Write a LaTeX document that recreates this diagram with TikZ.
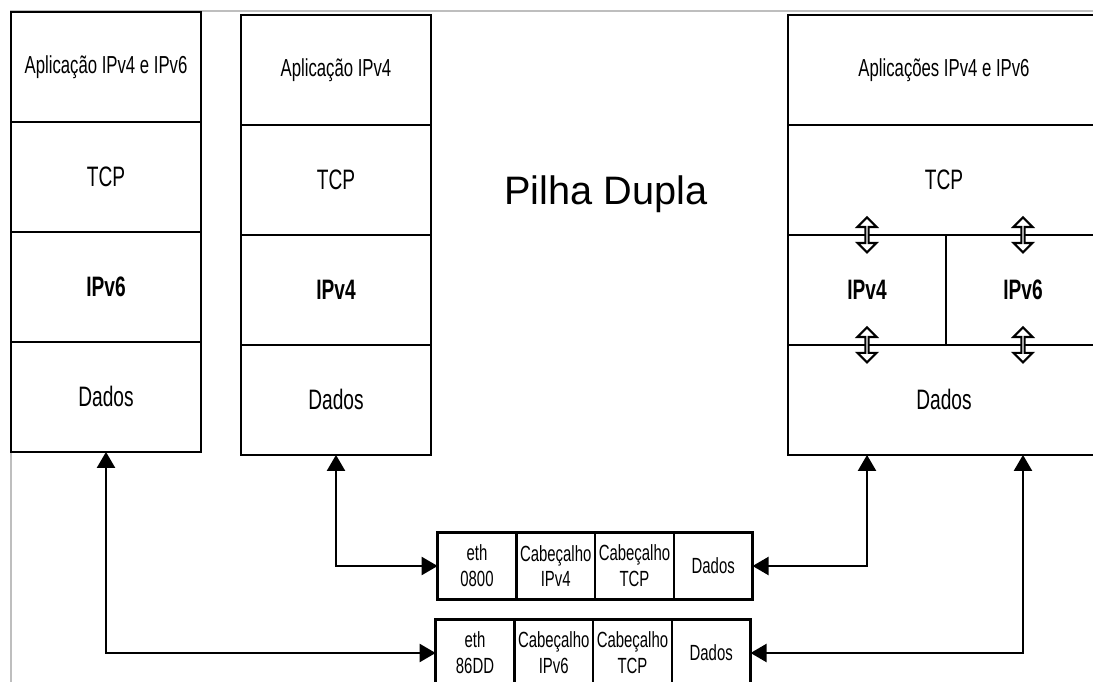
\documentclass[tikz,border=0pt]{standalone}
\usepackage{fontspec}
\setmainfont{Liberation Sans}
\newfontfamily\narrowsans[FakeStretch=0.68]{Liberation Sans}
\definecolor{FrameGray}{HTML}{BEBEBE}
\usetikzlibrary{positioning,arrows.meta,shapes.arrows}

\begin{document}
\begin{tikzpicture}[
    x=0.02cm, y=-0.02cm,
    layer/.style={
        draw,
        line width=1.3pt,
        minimum width=3.8cm,
        minimum height=2.2cm,
        inner sep=0pt,
        outer sep=0pt,
        align=center,
        font=\narrowsans\fontsize{16}{19}\selectfont
    },
    applayer/.style={
        layer,
        font=\narrowsans\fontsize{14}{16}\selectfont
    },
    pcell/.style={
        draw,
        line width=1.3pt,
        minimum width=1.575cm,
        minimum height=1.34cm,
        inner sep=0pt,
        outer sep=0pt,
        align=center,
        font=\narrowsans\fontsize{12.5}{14.7}\selectfont
    },
    link/.style={
        {Triangle[length=0.32cm,width=0.36cm]}-{Triangle[length=0.32cm,width=0.36cm]},
        line width=1.3pt
    },
    updown/.style={
        double arrow,
        draw,
        fill=white,
        line width=1.2pt,
        shape border rotate=90,
        inner sep=0pt,
        minimum width=0.38cm,
        minimum height=0.7cm,
        double arrow head extend=0.1cm
    },
    frameline/.style={FrameGray, line width=0.8pt}
]

\clip (0,0) rectangle (1093,682);

% ---------------------------------------------------------
% Moldura da captura
% ---------------------------------------------------------

\draw[frameline] (11,682) -- (11,11) -- (1093,11);

% ---------------------------------------------------------
% Pilha IPv6
% ---------------------------------------------------------

\node[applayer] (appL) at (106,67) {Aplicação IPv4 e IPv6};
\node[layer, below=0pt of appL] (tcpL) {TCP};
\node[layer, below=0pt of tcpL] (ipL) {\bfseries IPv6};
\node[layer, below=0pt of ipL] (dadosL) {Dados};

% ---------------------------------------------------------
% Pilha IPv4
% ---------------------------------------------------------

\node[applayer] (appM) at (336,70) {Aplicação IPv4};
\node[layer, below=0pt of appM] (tcpM) {TCP};
\node[layer, below=0pt of tcpM] (ipM) {\bfseries IPv4};
\node[layer, below=0pt of ipM] (dadosM) {Dados};

% ---------------------------------------------------------
% Pilha dupla
% ---------------------------------------------------------

\node[applayer, minimum width=6.24cm] (appR) at (944,70)
{Aplicações IPv4 e IPv6};

\node[layer, minimum width=6.24cm, below=0pt of appR] (tcpR) {TCP};

\node[layer, minimum width=3.16cm, below right=0pt of tcpR.south west] (ip4R)
{\bfseries IPv4};

\node[layer, minimum width=3.08cm, right=0pt of ip4R] (ip6R)
{\bfseries IPv6};

\node[layer, minimum width=6.24cm, below right=0pt of ip4R.south west] (dadosR)
{Dados};

\node[updown] (u4a) at (ip4R.north) {};
\node[updown] (u6a) at (ip6R.north) {};
\node[updown] (u4b) at (ip4R.south) {};
\node[updown] (u6b) at (ip6R.south) {};

\node[font=\fontsize{22.6}{26}\selectfont, anchor=base] (title) at (606,205)
{Pilha Dupla};

% ---------------------------------------------------------
% Quadros Ethernet
% ---------------------------------------------------------

\node[pcell] (eth4) at (477,566) {eth\\0800};
\node[pcell, right=0pt of eth4] (hip4) {Cabeçalho\\IPv4};
\node[pcell, right=0pt of hip4] (htcp4) {Cabeçalho\\TCP};
\node[pcell, right=0pt of htcp4] (dat4) {Dados};

\node[pcell] (eth6) at (475,653) {eth\\86DD};
\node[pcell, right=0pt of eth6] (hip6) {Cabeçalho\\IPv6};
\node[pcell, right=0pt of hip6] (htcp6) {Cabeçalho\\TCP};
\node[pcell, right=0pt of htcp6] (dat6) {Dados};

% ---------------------------------------------------------
% Ligações
% ---------------------------------------------------------

\draw[link] (dadosL.south) |- (eth6.west);
\draw[link] (dadosM.south) |- (eth4.west);
\draw[link] (ip4R.south |- dadosR.south) |- (dat4.east);
\draw[link] (ip6R.south |- dadosR.south) |- (dat6.east);

\end{tikzpicture}
\end{document}
